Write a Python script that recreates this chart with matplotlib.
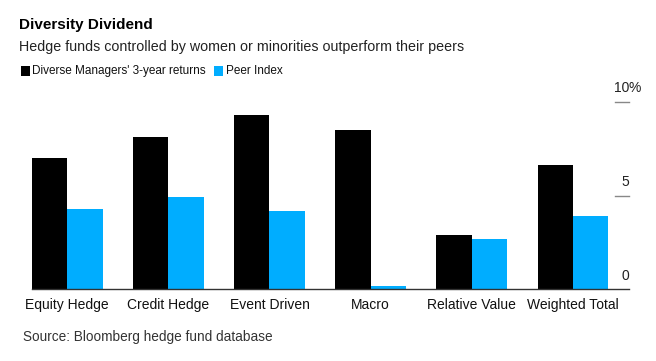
import matplotlib
matplotlib.use("Agg")
import matplotlib.pyplot as plt
import matplotlib.transforms as mtransforms
import numpy as np

plt.rcParams["font.family"] = ["Liberation Sans", "DejaVu Sans"]

categories = ["Equity Hedge", "Credit Hedge", "Event Driven", "Macro",
              "Relative Value", "Weighted Total"]
diverse_returns = [7.0, 8.1, 9.3, 8.5, 2.9, 6.6]
peer_index = [4.3, 4.9, 4.2, 0.2, 2.7, 3.9]
y_ticks = [0, 5, 10]
y_tick_labels = ["0", "5", "10%"]

BLACK = "#000000"
BLUE = "#00adff"

W, H = 656, 361
fig = plt.figure(figsize=(W / 100, H / 100), dpi=100)
ax = fig.add_axes([31.7 / W, 1 - 289.3 / H, (629 - 31.7) / W, (289.3 - 101.7) / H])

x = np.arange(len(categories))
bw = 0.35
ax.bar(x - bw / 2, diverse_returns, bw, color=BLACK, linewidth=0)
ax.bar(x + bw / 2, peer_index, bw, color=BLUE, linewidth=0)

ax.set_xlim(-0.35, 5.553)
ax.set_ylim(0, 10)
for s in ["top", "right", "left", "bottom"]:
    ax.spines[s].set_visible(False)
ax.axhline(0, color="#333333", linewidth=1, clip_on=False)

ax.set_yticks([])
ax.set_xticks(x)
ax.set_xticklabels(categories, fontsize=10, color="#111111")
ax.tick_params(axis="x", length=0, pad=6)

# short tick marks and labels on the right side
trans = mtransforms.blended_transform_factory(ax.transAxes, ax.transData)
x0 = 1 - (629 - 615) / (629 - 31.7)
for val, lab in zip(y_ticks, y_tick_labels):
    if val > 0:
        ax.plot([x0, 1.0], [val, val], color="#888888", linewidth=1,
                transform=trans, clip_on=False)
    num = lab.rstrip("%")
    ax.text(1.0, val + 0.72, num, transform=trans, ha="right", va="center",
            fontsize=10, color="#222222")
    if lab.endswith("%"):
        ax.text(1.0, val + 0.72, "%", transform=trans, ha="left", va="center",
                fontsize=10, color="#222222")

# header
fig.text(19 / W, 1 - 25 / H, "Diversity Dividend", fontsize=11,
         fontweight="bold", va="center", ha="left")
fig.text(19 / W, 1 - 46.5 / H,
         "Hedge funds controlled by women or minorities outperform their peers",
         fontsize=10.3, va="center", ha="left", color="#222222")

# legend
fig.add_artist(plt.Rectangle((21 / W, 1 - 76 / H), 9 / W, 10 / H,
                             facecolor=BLACK, edgecolor="none",
                             transform=fig.transFigure))
fig.text(32.5 / W, 1 - 71 / H, "Diverse Managers' 3-year returns", fontsize=8.5,
         va="center", ha="left", color="#111111")
fig.add_artist(plt.Rectangle((214 / W, 1 - 76 / H), 9 / W, 10 / H,
                             facecolor=BLUE, edgecolor="none",
                             transform=fig.transFigure))
fig.text(226.5 / W, 1 - 71 / H, "Peer Index", fontsize=8.5,
         va="center", ha="left", color="#111111")

fig.text(23 / W, 1 - 336.5 / H, "Source: Bloomberg hedge fund database",
         fontsize=9.8, va="center", ha="left", color="#333333")

fig.savefig("out.png", dpi=100)
